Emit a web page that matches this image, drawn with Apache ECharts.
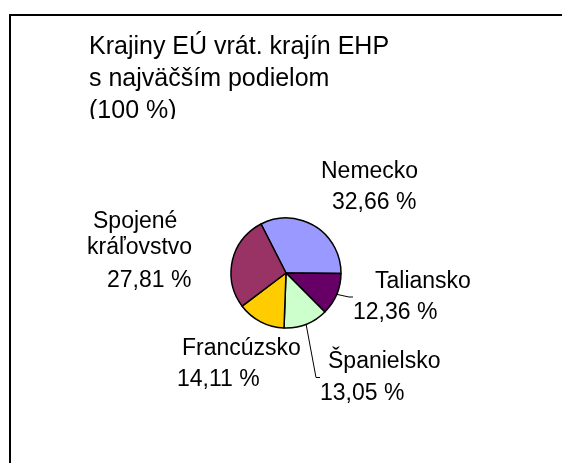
<!DOCTYPE html>
<html>
<head>
<meta charset="utf-8">
<script src="https://cdn.jsdelivr.net/npm/echarts@6/dist/echarts.min.js"></script>
<style>
  html, body { margin: 0; padding: 0; background: #fff; }
  #chart { width: 562px; height: 463px; }
</style>
</head>
<body>
<div id="chart"></div>
<script>
  // data
  let countries = ['Nemecko', 'Taliansko', 'Španielsko', 'Francúzsko', 'Spojené\nkráľovstvo'];
  let shares = [32.66, 12.36, 13.05, 14.11, 27.81];
  let colors = ['#9999FF', '#660066', '#CCFFCC', '#FFCC00', '#993366'];

  // label boxes (left, top), indents and line heights of each text line
  let labelBox = [[321, 156], [353, 266], [320, 346], [177, 333], [87, 208]];
  let labelIndent = [[0, 11], [22, 0], [8, 0], [5, 0], [6, 0, 20]];
  let labelLineH = [[31, 31], [31, 31], [31, 33], [31, 31], [27, 26, 40]];

  let fmt = function (v) {
    return v.toFixed(2).replace('.', ',') + ' %';
  };

  let seriesData = [];
  for (let i = 0; i < countries.length; i++) {
    let lines = countries[i].split('\n').concat([fmt(shares[i])]);
    let rich = {};
    let parts = [];
    for (let j = 0; j < lines.length; j++) {
      rich['l' + j] = {
        fontSize: 23,
        lineHeight: labelLineH[i][j],
        color: '#000',
        fontFamily: 'Liberation Sans, Arial, sans-serif',
        padding: [0, 0, 0, labelIndent[i][j] || 0]
      };
      parts.push('{l' + j + '|' + lines[j] + '}');
    }
    seriesData.push({
      name: countries[i],
      value: shares[i],
      itemStyle: { color: colors[i] },
      label: { formatter: parts.join('\n'), rich: rich },
      labelLine: { show: i === 1 || i === 2 }
    });
  }

  let myChart = echarts.init(document.getElementById('chart'));
  let option = {
    animation: false,
    title: {
      text: 'Krajiny EÚ vrát. krajín EHP\ns najväčším podielom\n(100 %)',
      left: 89,
      top: 31,
      padding: 0,
      textStyle: {
        fontSize: 25,
        lineHeight: 32,
        fontWeight: 'normal',
        color: '#000',
        fontFamily: 'Liberation Sans, Arial, sans-serif'
      }
    },
    graphic: [
      {
        type: 'rect',
        z: 100,
        shape: { x: 80, y: 119, width: 190, height: 22 },
        style: { fill: '#fff' }
      },
      {
        type: 'polyline',
        z: 101,
        shape: { points: [[10, 470], [10, 15], [570, 15]] },
        style: { stroke: '#000', lineWidth: 2, fill: null }
      }
    ],
    series: [{
      type: 'pie',
      center: [286, 273],
      radius: 55,
      startAngle: 117,
      clockwise: true,
      emphasis: { disabled: true },
      itemStyle: { borderColor: '#000', borderWidth: 1.5 },
      label: {
        show: true,
        position: 'outside',
        color: '#000'
      },
      labelLine: {
        show: false,
        length: 4,
        length2: 4,
        lineStyle: { color: '#000', width: 1 }
      },
      labelLayout: function (params) {
        let b = labelBox[params.dataIndex];
        return { x: b[0], y: b[1], align: 'left', verticalAlign: 'top' };
      },
      data: seriesData
    }]
  };
  myChart.setOption(option);
</script>
</body>
</html>
